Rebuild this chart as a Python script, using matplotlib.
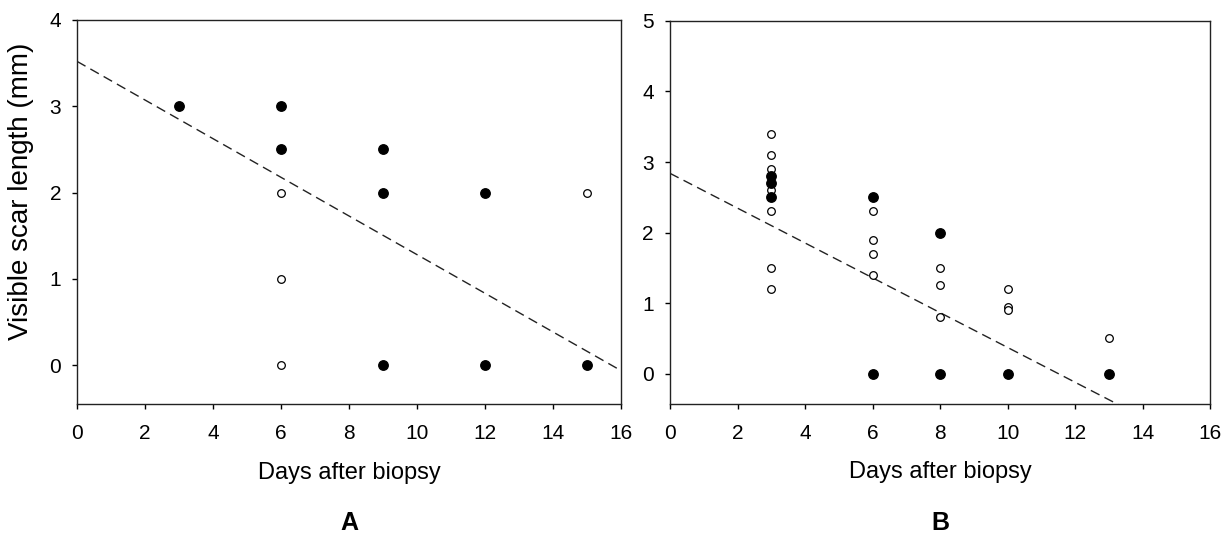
import matplotlib
matplotlib.use("Agg")
import matplotlib.pyplot as plt
import numpy as np

plt.rcParams['font.family'] = ['Liberation Sans', 'DejaVu Sans']

# Panel A data
a_filled_x = [3, 6, 6, 9, 9, 12, 9, 12, 15]
a_filled_y = [3, 3, 2.5, 2.5, 2, 2, 0, 0, 0]
a_open_x = [6, 6, 6, 15]
a_open_y = [2, 1, 0, 2]
a_intercept = 3.52
a_slope = -0.224

# Panel B data
b_filled_x = [3, 3, 3, 6, 6, 8, 8, 10, 13]
b_filled_y = [2.8, 2.7, 2.5, 2.5, 0, 2.0, 0, 0, 0]
b_open_x = [3, 3, 3, 3, 3, 3, 3, 6, 6, 6, 6, 8, 8, 8, 10, 10, 10, 13]
b_open_y = [3.4, 3.1, 2.9, 2.6, 2.3, 1.5, 1.2, 2.3, 1.9, 1.7, 1.4, 1.5, 1.25, 0.8, 1.2, 0.95, 0.9, 0.5]
b_intercept = 2.84
b_slope = -0.247

x_ticks = [0, 2, 4, 6, 8, 10, 12, 14, 16]

fig = plt.figure(figsize=(12.27, 5.35), dpi=100)
ax_a = fig.add_axes([0.0628, 0.2449, 0.4434, 0.7178])
ax_b = fig.add_axes([0.546, 0.2449, 0.4405, 0.716])


def draw_panel(ax, fx, fy, ox, oy, intercept, slope, ylim, yticks, letter):
    xs = np.array([0, 16])
    ax.plot(xs, intercept + slope * xs, color='#222222', linestyle=(0, (7, 4)), linewidth=1.0, zorder=1)
    ax.plot(fx, fy, linestyle='none', marker='o', markersize=6.8, color='black', zorder=3)
    ax.plot(ox, oy, linestyle='none', marker='o', markersize=5.5, markerfacecolor='white',
            markeredgecolor='black', markeredgewidth=0.9, zorder=2)
    ax.set_xlim(0, 16)
    ax.set_ylim(*ylim)
    ax.set_xticks(x_ticks)
    ax.set_yticks(yticks)
    ax.tick_params(direction='out', length=3.5, width=1, labelsize=15, top=False, right=False)
    ax.tick_params(axis='x', pad=11)
    ax.tick_params(axis='y', pad=8)
    for s in ax.spines.values():
        s.set_linewidth(1.0)
        s.set_color('#222222')
    ax.set_xlabel("Days after biopsy", fontsize=17)
    ax.xaxis.set_label_coords(0.5, -0.15)
    ax.text(0.5, -0.31, letter, transform=ax.transAxes, ha='center', va='center',
            fontsize=18, fontweight='bold')


draw_panel(ax_a, a_filled_x, a_filled_y, a_open_x, a_open_y, a_intercept, a_slope,
           (-0.45, 4), [0, 1, 2, 3, 4], "A")
ax_a.set_ylabel("Visible scar length (mm)", fontsize=20)
ax_a.yaxis.set_label_coords(-0.08, 0.555)

draw_panel(ax_b, b_filled_x, b_filled_y, b_open_x, b_open_y, b_intercept, b_slope,
           (-0.43, 5), [0, 1, 2, 3, 4, 5], "B")

fig.savefig("out.png", dpi=100)
